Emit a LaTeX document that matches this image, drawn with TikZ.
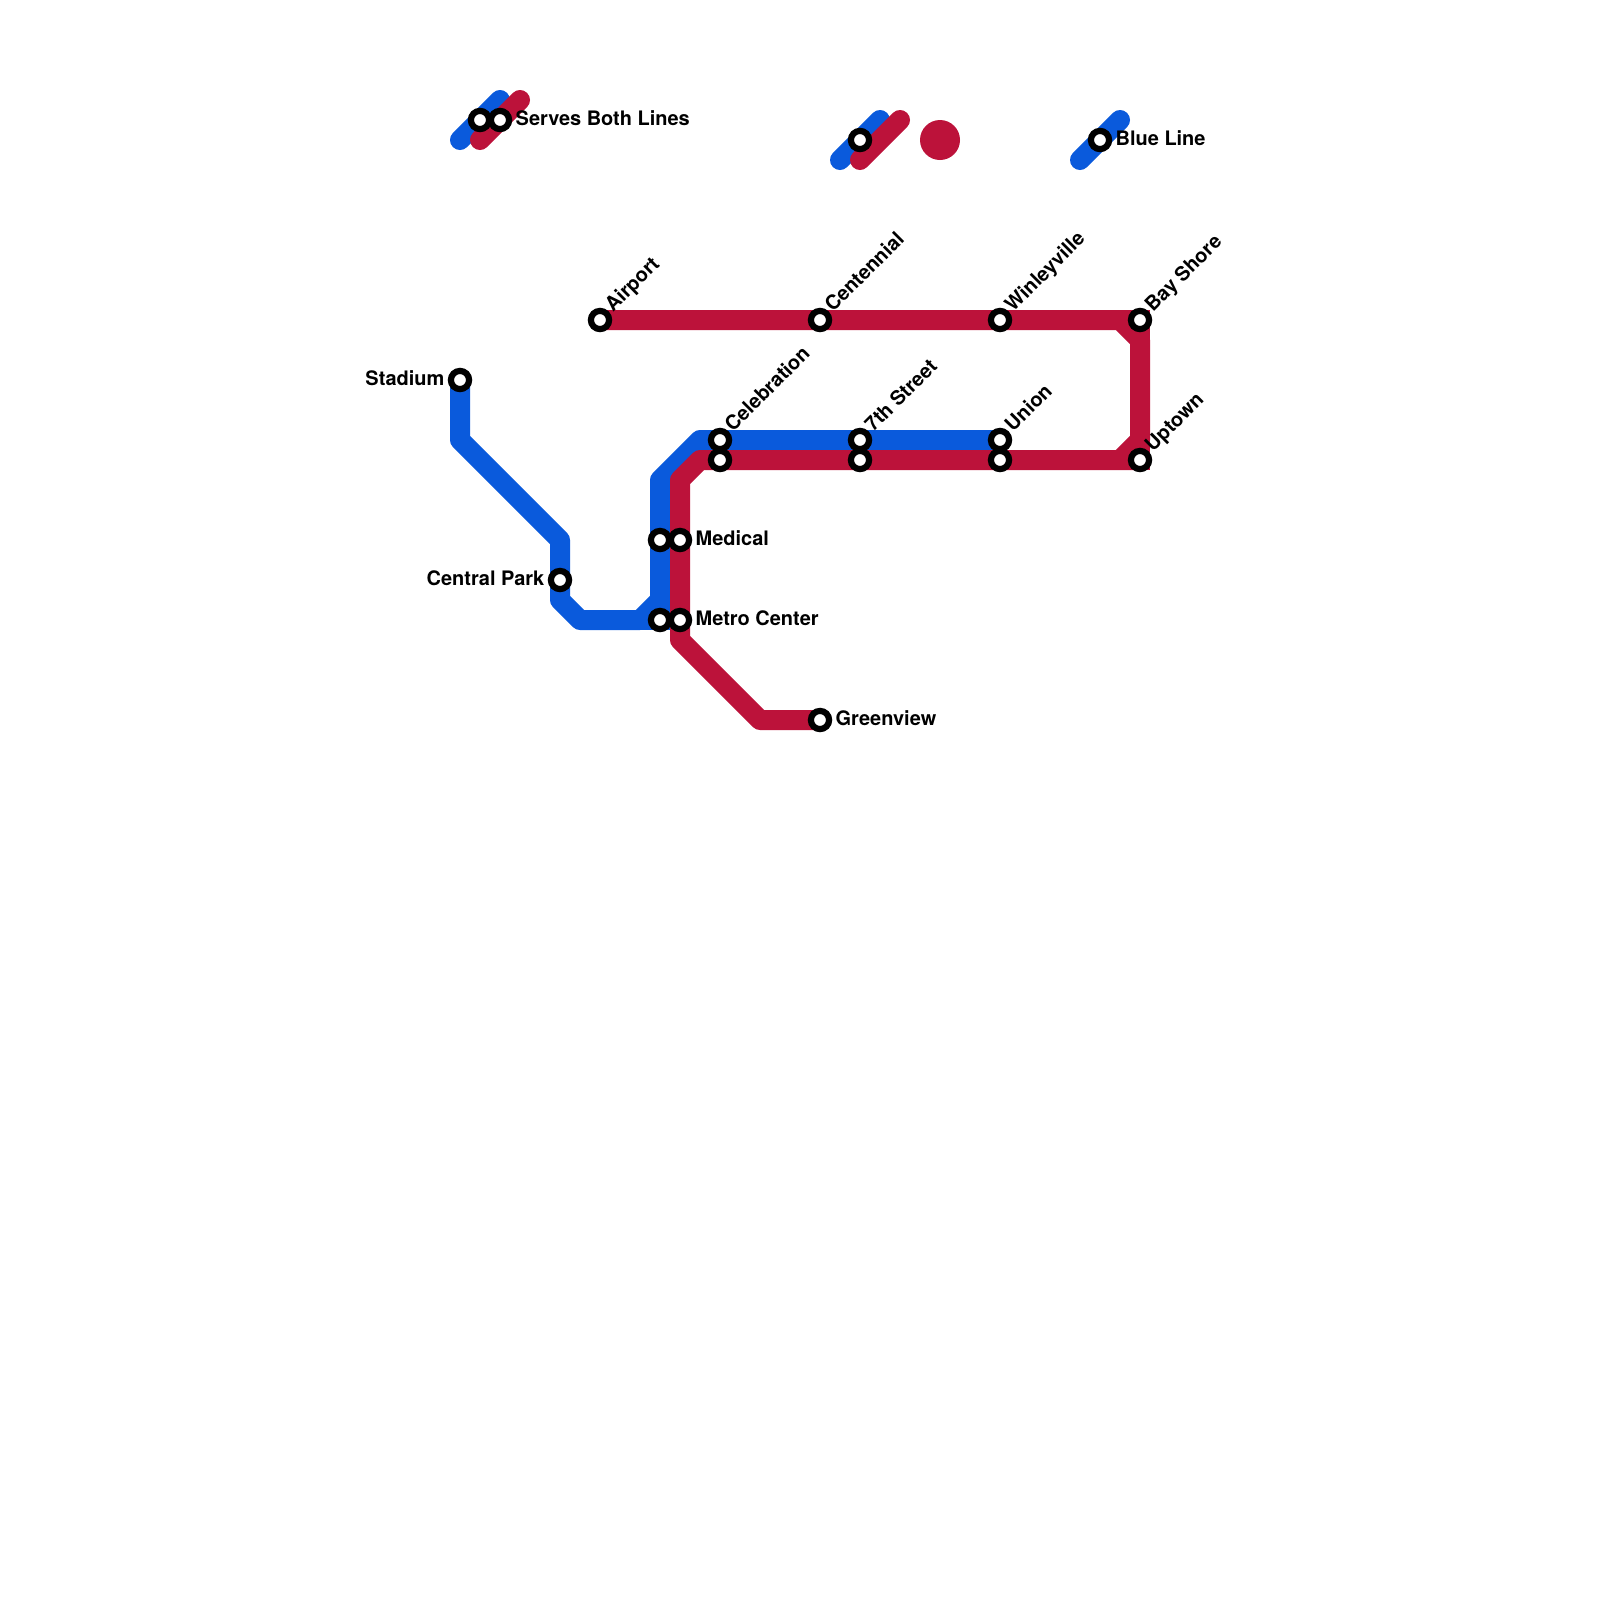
\documentclass[tikz,border=0pt]{standalone}
\usepackage{xcolor}
\usepackage{fontspec}
\setmainfont{TeX Gyre Heros}
\usetikzlibrary{positioning, backgrounds}
\definecolor{blueline}{RGB}{10, 90, 220}
\definecolor{redline}{RGB}{188, 18, 58}

\tikzset{
  station/.style={draw=black, fill=white, circle, line width=1.55mm, minimum size=4.55mm, inner sep=0pt},
  stationname/.style={font=\fontsize{14.2pt}{16pt}\selectfont\bfseries, inner sep=0pt, text=black},
  flatname/.style={stationname, yshift=0.5mm},
  slanted/.style={stationname, rotate=45, anchor=base west},
  track/.style={line width=5mm, line join=round},
  stub/.style={line width=5mm, line join=miter},
  keytrack/.style={line width=5mm, line cap=round}
}

\begin{document}
\begin{tikzpicture}[x=5mm, y=-5mm]
    \useasboundingbox (0,0) rectangle (80,80);

    % Key stations
    \node[station] (keyboth1) at (24,6) {};
    \node[station] (keyboth2) at (25,6) {};
    \node[station] (keysplit) at (43,7) {};
    \node[station] (keyblue) at (55,7) {};
    \node[circle, fill=redline, minimum size=10mm, inner sep=0pt] (keydot) at (47,7) {};

    % Blue stations
    \node[station] (stadium) at (23,19) {};
    \node[station] (centralpark) at (28,29) {};
    \node[station] (metroblue) at (33,31) {};
    \node[station] (medicalblue) at (33,27) {};
    \node[station] (celebration) at (36,22) {};
    \node[station] (seventhblue) at (43,22) {};
    \node[station] (union) at (50,22) {};

    % Red stations
    \node[station] (airport) at (30,16) {};
    \node[station] (centennial) at (41,16) {};
    \node[station] (winleyville) at (50,16) {};
    \node[station] (bayshore) at (57,16) {};
    \node[station] (uptown) at (57,23) {};
    \node[station] (unionred) at (50,23) {};
    \node[station] (seventhred) at (43,23) {};
    \node[station] (celebrationred) at (36,23) {};
    \node[station] (medical) at (34,27) {};
    \node[station] (metro) at (34,31) {};
    \node[station] (greenview) at (41,36) {};

    % Bends and key track ends
    \coordinate (b1) at (23,22);
    \coordinate (b2) at (28,27);
    \coordinate (b3) at (28,30);
    \coordinate (b4) at (29,31);
    \coordinate (b5) at (32,31);
    \coordinate (b6) at (33,30);
    \coordinate (b7) at (33,24);
    \coordinate (b8) at (35,22);
    \coordinate (r1) at (56,16);
    \coordinate (r2) at (57,17);
    \coordinate (r3) at (57,22);
    \coordinate (r4) at (56,23);
    \coordinate (r5) at (35,23);
    \coordinate (r6) at (34,24);
    \coordinate (r7) at (34,32);
    \coordinate (r8) at (38,36);
    \coordinate (k1) at (23,7);
    \coordinate (k2) at (25,5);
    \coordinate (k3) at (24,7);
    \coordinate (k4) at (26,5);
    \coordinate (k5) at (42,8);
    \coordinate (k6) at (44,6);
    \coordinate (k7) at (43,8);
    \coordinate (k8) at (45,6);
    \coordinate (k9) at (54,8);
    \coordinate (k10) at (56,6);

    % Connections
    \begin{scope}[on background layer]
      \draw[keytrack, blueline] (k1) -- (k2);
      \draw[keytrack, redline] (k3) -- (k4);
      \draw[keytrack, blueline] (k5) -- (k6);
      \draw[keytrack, redline] (k7) -- (k8);
      \draw[keytrack, blueline] (k9) -- (k10);

      \draw[track, blueline] (stadium.center) -- (b1) -- (b2) -- (b3) -- (b4) -- (b5) -- (b6) -- (b7) -- (b8) -- (union.center);
      \draw[stub, blueline] (b5) -- (metroblue.center) -- (b6);

      \draw[track, redline] (airport.center) -- (r1) -- (r2) -- (r3) -- (r4);
      \draw[stub, redline] (r1) -- (bayshore.center) -- (r2);
      \draw[stub, redline] (r3) -- (uptown.center) -- (r4);
      \draw[track, redline] (uptown.center) -- (r5) -- (r6) -- (r7) -- (r8) -- (greenview.center);
    \end{scope}

    % Station names
    \node[flatname, right=0.8mm of keyboth2] (nameboth) {Serves Both Lines};
    \node[flatname, right=0.8mm of keyblue] (nameblue) {Blue Line};
    \node[flatname, left=0.8mm of stadium] (namestadium) {Stadium};
    \node[flatname, left=0.8mm of centralpark] (namecentral) {Central Park};
    \node[flatname, right=0.8mm of medical] (namemedical) {Medical};
    \node[flatname, right=0.8mm of metro] (namemetro) {Metro Center};
    \node[flatname, right=0.8mm of greenview] (namegreen) {Greenview};
    \node[slanted] (nameairport) at ([shift={(0.65,-0.35)}]airport.center) {Airport};
    \node[slanted] (namecentennial) at ([shift={(0.65,-0.35)}]centennial.center) {Centennial};
    \node[slanted] (namewinley) at ([shift={(0.65,-0.35)}]winleyville.center) {Winleyville};
    \node[slanted] (namebay) at ([shift={(0.65,-0.35)}]bayshore.center) {Bay Shore};
    \node[slanted] (namecelebration) at ([shift={(0.65,-0.35)}]celebration.center) {Celebration};
    \node[slanted] (nameseventh) at ([shift={(0.65,-0.35)}]seventhblue.center) {7th Street};
    \node[slanted] (nameunion) at ([shift={(0.65,-0.35)}]union.center) {Union};
    \node[slanted] (nameuptown) at ([shift={(0.65,-0.35)}]uptown.center) {Uptown};
\end{tikzpicture}
\end{document}
